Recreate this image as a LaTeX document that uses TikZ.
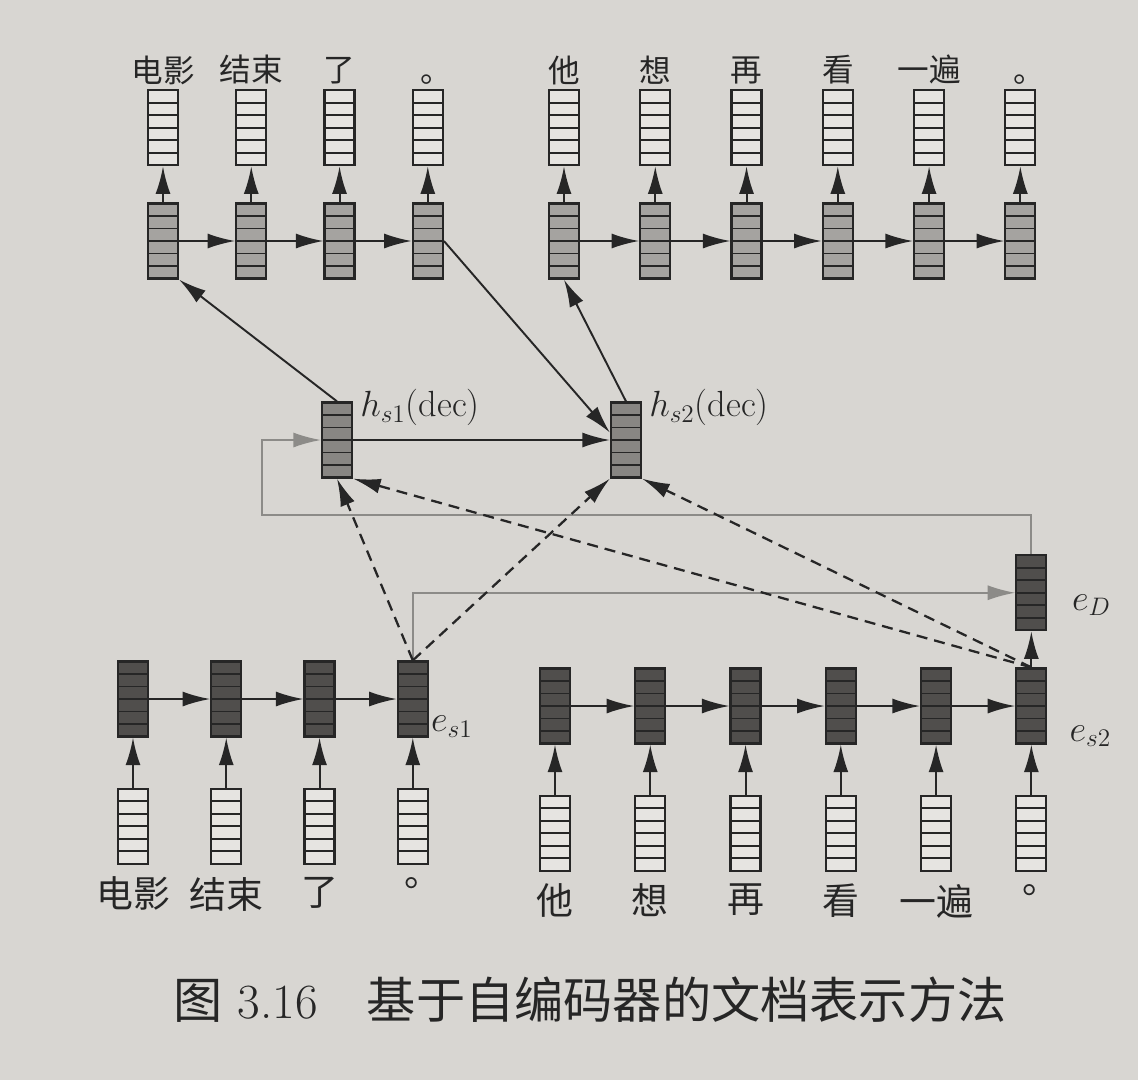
\documentclass[tikz,border=0pt]{standalone}
\usepackage{fontspec}
\newfontfamily\cjk{Noto Sans CJK SC}
\usepackage{tikz}
\usetikzlibrary{positioning, arrows.meta}
\definecolor{pagegray}{RGB}{216,214,210}
\definecolor{ink}{RGB}{38,38,38}
\definecolor{cellwhite}{RGB}{230,228,225}
\definecolor{decgray}{RGB}{165,163,160}
\definecolor{hsgray}{RGB}{136,134,131}
\definecolor{encdark}{RGB}{80,78,76}
\definecolor{linkgray}{RGB}{140,139,136}
\tikzstyle{vec} = [rectangle, draw=ink, line width=1.3pt, inner sep=0pt,
minimum width=0.6cm, minimum height=1.5cm,
path picture={\foreach \k in {1,...,5} \draw[ink, line width=1pt] ([yshift=\k*0.25cm]path picture bounding box.south west) -- ([yshift=\k*0.25cm]path picture bounding box.south east);}]
\tikzstyle{wordvec} = [vec, fill=cellwhite]
\tikzstyle{decvec} = [vec, fill=decgray]
\tikzstyle{sentvec} = [vec, fill=hsgray]
\tikzstyle{encvec} = [vec, fill=encdark]
\tikzstyle{topword} = [inner sep=1pt, text=ink, font={\cjk\fontsize{18}{18}\selectfont}]
\tikzstyle{botword} = [inner sep=1pt, text=ink, font={\cjk\fontsize{21}{21}\selectfont}]
\tikzstyle{vlabel} = [inner sep=1pt, text=ink, font=\huge]
\tikzstyle{arrow} = [line width=1.1pt, draw=ink, -{Latex[length=0.55cm,width=0.3cm]}]
\tikzstyle{dasharrow} = [arrow, line width=1.3pt, dash pattern=on 0.22cm off 0.14cm]
\tikzstyle{grayarrow} = [line width=1pt, draw=linkgray, -{Latex[length=0.55cm,width=0.3cm]}]
\begin{document}
\begin{tikzpicture}[x=0.02cm, y=-0.02cm]

\fill[pagegray] (0,0) rectangle (1138,1080);

% decoder, sentence 1
\node (dec11) [decvec] at (163,241) {};
\node (dec12) [decvec, right=1.12cm of dec11] {};
\node (dec13) [decvec, right=1.12cm of dec12] {};
\node (dec14) [decvec, right=1.12cm of dec13] {};
\node (out11) [wordvec, above=0.72cm of dec11] {};
\node (out12) [wordvec, above=0.72cm of dec12] {};
\node (out13) [wordvec, above=0.72cm of dec13] {};
\node (out14) [wordvec, above=0.72cm of dec14] {};
\node (wo11) [topword, above=0.05cm of out11] {电影};
\node (wo12) [topword, above=0.05cm of out12] {结束};
\node (wo13) [topword, above=0.05cm of out13] {了};
\node (wo14) [topword, above=0.05cm of out14, xshift=0.18cm] {。};

% decoder, sentence 2
\node (dec21) [decvec] at (564,241) {};
\node (dec22) [decvec, right=1.18cm of dec21] {};
\node (dec23) [decvec, right=1.18cm of dec22] {};
\node (dec24) [decvec, right=1.18cm of dec23] {};
\node (dec25) [decvec, right=1.18cm of dec24] {};
\node (dec26) [decvec, right=1.18cm of dec25] {};
\node (out21) [wordvec, above=0.72cm of dec21] {};
\node (out22) [wordvec, above=0.72cm of dec22] {};
\node (out23) [wordvec, above=0.72cm of dec23] {};
\node (out24) [wordvec, above=0.72cm of dec24] {};
\node (out25) [wordvec, above=0.72cm of dec25] {};
\node (out26) [wordvec, above=0.72cm of dec26] {};
\node (wo21) [topword, above=0.05cm of out21] {他};
\node (wo22) [topword, above=0.05cm of out22] {想};
\node (wo23) [topword, above=0.05cm of out23] {再};
\node (wo24) [topword, above=0.05cm of out24] {看};
\node (wo25) [topword, above=0.05cm of out25] {一遍};
\node (wo26) [topword, above=0.05cm of out26, xshift=0.18cm] {。};

% sentence states
\node (hs1) [sentvec] at (337,440) {};
\node (hs2) [sentvec] at (626,440) {};
\node (lhs1) [vlabel, right=0.1cm of hs1, yshift=0.65cm] {$h_{s1}$(dec)};
\node (lhs2) [vlabel, right=0.1cm of hs2, yshift=0.65cm] {$h_{s2}$(dec)};

% encoder, sentence 1
\node (enc11) [encvec] at (133,699) {};
\node (enc12) [encvec, right=1.22cm of enc11] {};
\node (enc13) [encvec, right=1.22cm of enc12] {};
\node (enc14) [encvec, right=1.22cm of enc13] {};
\node (in11) [wordvec, below=1cm of enc11] {};
\node (in12) [wordvec, below=1cm of enc12] {};
\node (in13) [wordvec, below=1cm of enc13] {};
\node (in14) [wordvec, below=1cm of enc14] {};
\node (wi11) [botword, below=0.2cm of in11] {电影};
\node (wi12) [botword, below=0.2cm of in12] {结束};
\node (wi13) [botword, below=0.2cm of in13] {了};
\node (wi14) [botword, below=0.2cm of in14, xshift=0.2cm] {。};
\node (les1) [vlabel, right=0cm of enc14, yshift=-0.55cm] {$e_{s1}$};

% encoder, sentence 2
\node (enc21) [encvec] at (555,706) {};
\node (enc22) [encvec, right=1.26cm of enc21] {};
\node (enc23) [encvec, right=1.26cm of enc22] {};
\node (enc24) [encvec, right=1.26cm of enc23] {};
\node (enc25) [encvec, right=1.26cm of enc24] {};
\node (enc26) [encvec, right=1.26cm of enc25] {};
\node (in21) [wordvec, below=1cm of enc21] {};
\node (in22) [wordvec, below=1cm of enc22] {};
\node (in23) [wordvec, below=1cm of enc23] {};
\node (in24) [wordvec, below=1cm of enc24] {};
\node (in25) [wordvec, below=1cm of enc25] {};
\node (in26) [wordvec, below=1cm of enc26] {};
\node (wi21) [botword, below=0.2cm of in21] {他};
\node (wi22) [botword, below=0.2cm of in22] {想};
\node (wi23) [botword, below=0.2cm of in23] {再};
\node (wi24) [botword, below=0.2cm of in24] {看};
\node (wi25) [botword, below=0.2cm of in25] {一遍};
\node (wi26) [botword, below=0.2cm of in26, xshift=0.2cm] {。};
\node (les2) [vlabel, right=0.4cm of enc26, yshift=-0.6cm] {$e_{s2}$};

% document vector
\node (ed) [encvec, above=0.72cm of enc26] {};
\node (led) [vlabel, right=0.45cm of ed, yshift=-0.25cm] {$e_D$};

\node (cap) [inner sep=0pt, text=ink, font={\fontsize{28}{28}\selectfont}] at (590,1000) {{\cjk 图} 3.16\quad{\cjk 基于自编码器的文档表示方法}};

\draw [arrow] (dec11) -- (out11);
\draw [arrow] (dec12) -- (out12);
\draw [arrow] (dec13) -- (out13);
\draw [arrow] (dec14) -- (out14);
\draw [arrow] (dec11) -- (dec12);
\draw [arrow] (dec12) -- (dec13);
\draw [arrow] (dec13) -- (dec14);
\draw [arrow] (dec21) -- (out21);
\draw [arrow] (dec22) -- (out22);
\draw [arrow] (dec23) -- (out23);
\draw [arrow] (dec24) -- (out24);
\draw [arrow] (dec25) -- (out25);
\draw [arrow] (dec26) -- (out26);
\draw [arrow] (dec21) -- (dec22);
\draw [arrow] (dec22) -- (dec23);
\draw [arrow] (dec23) -- (dec24);
\draw [arrow] (dec24) -- (dec25);
\draw [arrow] (dec25) -- (dec26);

\draw [arrow] (hs1.north) -- (dec11.south east);
\draw [arrow] (hs1) -- (hs2);
\draw [arrow] (dec14.east) -- ([yshift=0.15cm]hs2.west);
\draw [arrow] (hs2.north) -- (dec21.south);

\draw [arrow] (in11) -- (enc11);
\draw [arrow] (in12) -- (enc12);
\draw [arrow] (in13) -- (enc13);
\draw [arrow] (in14) -- (enc14);
\draw [arrow] (enc11) -- (enc12);
\draw [arrow] (enc12) -- (enc13);
\draw [arrow] (enc13) -- (enc14);
\draw [arrow] (in21) -- (enc21);
\draw [arrow] (in22) -- (enc22);
\draw [arrow] (in23) -- (enc23);
\draw [arrow] (in24) -- (enc24);
\draw [arrow] (in25) -- (enc25);
\draw [arrow] (in26) -- (enc26);
\draw [arrow] (enc21) -- (enc22);
\draw [arrow] (enc22) -- (enc23);
\draw [arrow] (enc23) -- (enc24);
\draw [arrow] (enc24) -- (enc25);
\draw [arrow] (enc25) -- (enc26);
\draw [arrow] (enc26) -- (ed);

\coordinate (fb) at (262,515);
\draw [grayarrow] (ed.north) |- (fb) |- (hs1.west);
\draw [grayarrow] (enc14.north) |- (ed.west);

\draw [dasharrow] (enc14.north) -- (hs1.south);
\draw [dasharrow] (enc14.north) -- (hs2.south west);
\draw [dasharrow] (enc26.north) -- (hs1.south east);
\draw [dasharrow] (enc26.north) -- (hs2.south east);

\end{tikzpicture}
\end{document}
